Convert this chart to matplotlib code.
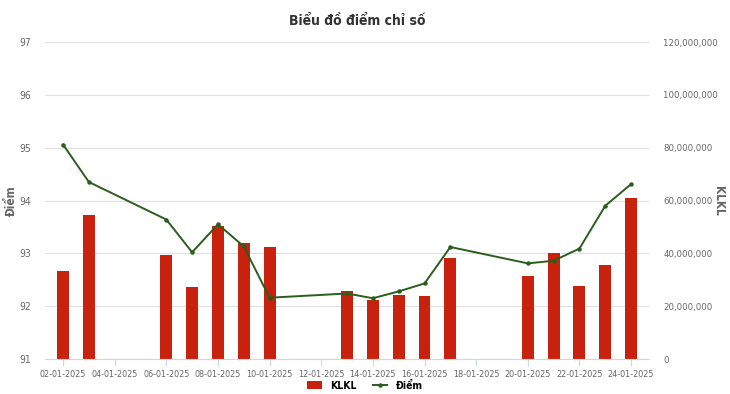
import matplotlib.pyplot as plt
import matplotlib.dates as mdates
import matplotlib.ticker as mticker
import pandas as pd

plt.rcParams['font.family'] = ['DejaVu Sans']
plt.rcParams['font.stretch'] = 'condensed'

ngay = ["02-01-2025", "03-01-2025", "06-01-2025", "07-01-2025", "08-01-2025",
        "09-01-2025", "10-01-2025", "13-01-2025", "14-01-2025", "15-01-2025",
        "16-01-2025", "17-01-2025", "20-01-2025", "21-01-2025", "22-01-2025",
        "23-01-2025", "24-01-2025"]
klkl = [33.2e6, 54.5e6, 39.3e6, 27.2e6, 50.4e6, 43.9e6, 42.4e6, 25.6e6,
        22.5e6, 24.3e6, 23.7e6, 38.4e6, 31.3e6, 40.3e6, 27.6e6, 35.4e6, 60.9e6]
diem = [95.06, 94.35, 93.64, 93.02, 93.55, 93.13, 92.16, 92.24, 92.15,
        92.28, 92.43, 93.12, 92.81, 92.86, 93.09, 93.90, 94.31]

dates = pd.to_datetime(ngay, format="%d-%m-%Y")

fig = plt.figure(figsize=(7.3, 3.94), dpi=100)
ax = fig.add_axes([0.0616, 0.0888, 0.828, 0.8046])
ax2 = ax.twinx()

bar_c = "#c8220e"
line_c = "#2a5e1c"
grey = "#666666"

ax2.bar(dates, klkl, width=0.46, color=bar_c, zorder=2, label="KLKL")
ax.plot(dates, diem, color=line_c, lw=1.4, marker="o", ms=2.2, zorder=3, label="Điểm")

ax.set_zorder(ax2.get_zorder() + 1)
ax.patch.set_visible(False)

ax.set_ylim(91, 97)
ax2.set_ylim(0, 120e6)
ax.set_xlim(pd.Timestamp("2025-01-01") + pd.Timedelta(days=0.30),
            pd.Timestamp("2025-01-24") + pd.Timedelta(days=0.71))

ax.xaxis.set_major_locator(mdates.DayLocator(bymonthday=range(2, 25, 2)))
ax.xaxis.set_major_formatter(mdates.DateFormatter("%d-%m-%Y"))
ax2.yaxis.set_major_locator(mticker.MultipleLocator(20e6))
ax2.yaxis.set_major_formatter(mticker.FuncFormatter(lambda v, p: f"{int(v):,}"))
ax.yaxis.set_major_locator(mticker.MultipleLocator(1))

ax2.grid(axis="y", color="#e0e0e0", lw=0.8, zorder=0)
ax2.set_axisbelow(True)

for a in (ax, ax2):
    for s in a.spines.values():
        s.set_visible(False)
ax.spines["bottom"].set_visible(True)
ax.spines["bottom"].set_color("#ccd6eb")

ax.tick_params(axis="x", colors="#ccd6eb", labelcolor=grey, labelsize=6.5, length=5, pad=3)
ax.tick_params(axis="y", length=0, labelcolor=grey, labelsize=7.5, pad=10)
ax2.tick_params(axis="y", length=0, labelcolor=grey, labelsize=6.8, pad=10)

ax.set_ylabel("Điểm", color=grey, fontsize=8.5, fontweight="bold", va="center")
ax.yaxis.set_label_coords(-0.055, 0.5)
ax2.set_ylabel("KLKL", color=grey, fontsize=8.5, fontweight="bold", rotation=270, va="center")
ax2.yaxis.set_label_coords(1.114, 0.5)

fig.suptitle("Biểu đồ điểm chỉ số", x=0.49, y=0.965, fontsize=10, fontweight="bold", color="#333333")

h1, l1 = ax2.get_legend_handles_labels()
h2, l2 = ax.get_legend_handles_labels()
fig.legend(h1 + h2, l1 + l2, loc="lower center", bbox_to_anchor=(0.5, -0.015), ncol=2,
           frameon=False, handlelength=1.4, columnspacing=1.5,
           prop={"weight": "bold", "size": 7.5, "stretch": "condensed"})

fig.savefig("out.png", dpi=100)
